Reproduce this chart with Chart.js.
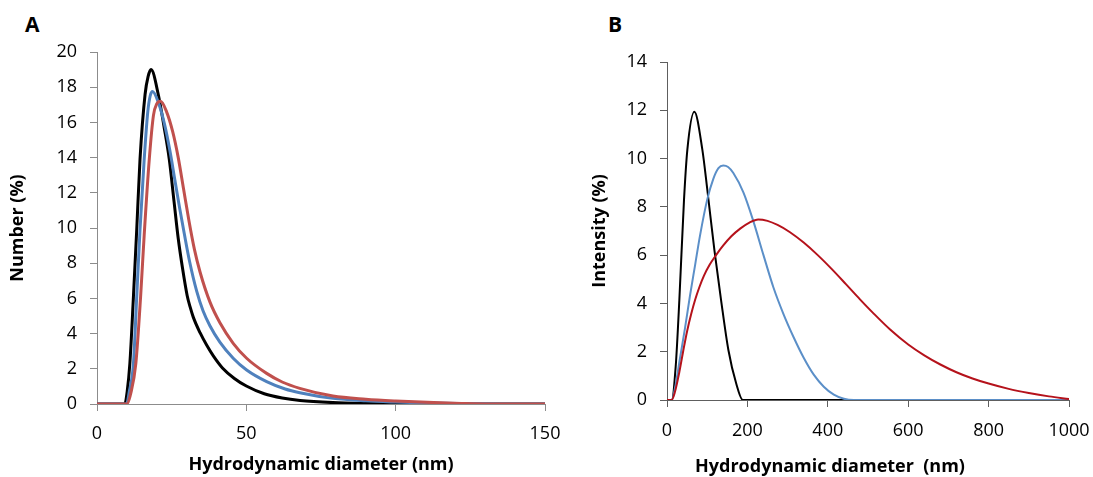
<!DOCTYPE html>
<html>
<head>
<meta charset="utf-8">
<script src="https://cdn.jsdelivr.net/npm/chart.js@4.4.0/dist/chart.umd.min.js"></script>
<style>
  html, body { margin:0; padding:0; background:#fff; }
  body { width:1093px; height:477px; position:relative; overflow:hidden; font-family: "Open Sans", Lato, sans-serif; color:#000; }
  canvas { position:absolute; top:0; }
  #chartA { left:0; }
  #chartB { left:560px; }
  .letter { position:absolute; font-weight:bold; font-size:21px; line-height:1; }
  #titleB { position:absolute; left:660px; width:340px; top:453px; text-align:center; font-weight:bold; font-size:18px; white-space:pre; }
</style>
</head>
<body>
<div class="letter" style="left:25px; top:14px;">A</div>
<div class="letter" style="left:608px; top:14px;">B</div>
<canvas id="chartA" width="560" height="477"></canvas>
<canvas id="chartB" width="533" height="477"></canvas>
<div id="titleB">Hydrodynamic diameter  (nm)</div>
<script>
/* ---------- data ---------- */
// Panel A: number distribution (%), diameter in nm
const aBlackX = [0, 9.3, 10.1, 11.0, 12.2, 13.3, 14.4, 16.1, 17.1, 18.1, 20.5, 22.5, 24.2, 25.8, 27.2, 28.6, 30.2, 31.2, 32.2, 34.5, 36.7, 39, 42, 46, 50, 56, 62, 68, 79, 90, 100, 110, 150];
const aBlackY = [0, 0, 0.7, 2.3, 6.1, 9.9, 13.9, 17.6, 18.6, 19.0, 17.6, 15.7, 13.9, 11.5, 9.4, 7.75, 6.15, 5.5, 4.95, 4.05, 3.35, 2.72, 2.05, 1.45, 1.02, 0.58, 0.34, 0.2, 0.08, 0.03, 0.01, 0, 0];
const aBlueX  = [0, 9.9, 10.8, 12.2, 13.3, 14.4, 15.8, 17.0, 17.8, 18.6, 20.6, 22.6, 24.4, 26.0, 27.6, 29.2, 31.0, 33.4, 35.5, 37.8, 41.2, 45.6, 50.1, 56.8, 63, 67.9, 79, 90, 100, 112, 125, 135, 150];
const aBlueY  = [0, 0, 0.7, 2.3, 6.1, 9.9, 13.9, 16.6, 17.5, 17.75, 17.1, 15.9, 14.4, 12.8, 11.2, 9.7, 8.1, 6.4, 5.3, 4.45, 3.5, 2.6, 1.93, 1.27, 0.85, 0.64, 0.32, 0.18, 0.11, 0.05, 0.01, 0, 0];
const aRedX   = [0, 10.0, 11.3, 13.0, 14.6, 15.8, 17.5, 18.9, 20.0, 21.3, 23.3, 25.3, 27.2, 29.0, 30.8, 32.6, 34.5, 37.8, 41.2, 45.6, 50.1, 56.8, 62, 67.9, 79, 90, 100, 112.7, 122, 132, 150];
const aRedY   = [0, 0, 0.6, 2.3, 6.1, 9.6, 13.9, 16.4, 17.05, 17.2, 16.6, 15.5, 14.0, 12.2, 10.4, 8.8, 7.5, 5.8, 4.6, 3.45, 2.6, 1.74, 1.25, 0.89, 0.45, 0.27, 0.17, 0.08, 0.03, 0, 0];
const aXTicks = [0, 50, 100, 150];
const aYTicks = [0, 2, 4, 6, 8, 10, 12, 14, 16, 18, 20];

// Panel B: intensity distribution (%), diameter in nm
const bBlackX = [0, 11.6, 21.6, 30.7, 42.3, 50.6, 68, 88, 100, 118, 134.5, 152.7, 172, 188.5, 1000];
const bBlackY = [0, 0, 1.38, 4.14, 8.29, 10.36, 11.94, 10.36, 8.75, 6.2, 4.14, 2.07, 0.69, 0, 0];
const bBlueX  = [0, 11.6, 20, 32, 45, 57, 70, 82, 100, 115, 128, 140, 152, 165, 190, 214, 240, 265, 290, 315, 340, 365, 390, 415, 440, 465, 1000];
const bBlueY  = [0, 0, 0.5, 1.7, 3.0, 4.3, 5.6, 6.8, 8.3, 9.15, 9.6, 9.71, 9.65, 9.4, 8.6, 7.45, 6.0, 4.65, 3.55, 2.6, 1.75, 1.05, 0.55, 0.22, 0.05, 0, 0];
const bRedX   = [0, 11.6, 20, 30, 40, 50, 60, 70, 80, 92, 106, 122, 140, 160, 182, 205, 227, 250, 275, 306, 340, 375, 410, 445, 480, 513, 555, 600, 640, 680, 720, 760, 800, 850, 900, 950, 1000];
const bRedY   = [0, 0, 0.35, 1.1, 2.0, 2.85, 3.55, 4.15, 4.65, 5.15, 5.6, 6.0, 6.4, 6.78, 7.1, 7.35, 7.48, 7.42, 7.25, 6.95, 6.52, 6.0, 5.42, 4.8, 4.17, 3.6, 2.92, 2.3, 1.85, 1.47, 1.15, 0.89, 0.68, 0.46, 0.29, 0.15, 0.04];
const bXTicks = [0, 200, 400, 600, 800, 1000];
const bYTicks = [0, 2, 4, 6, 8, 10, 12, 14];

/* ---------- helpers ---------- */
const pts = (xs, ys) => xs.map((x, i) => ({x, y: ys[i]}));
const FONT = '"Open Sans", Lato, sans-serif';

function series(xs, ys, color, width){
  return {
    data: pts(xs, ys),
    borderColor: color,
    borderWidth: width,
    pointRadius: 0,
    fill: false,
    cubicInterpolationMode: 'monotone'
  };
}

function makePanel(id, cfg){
  return new Chart(document.getElementById(id), {
    type: 'line',
    data: { datasets: cfg.datasets },
    options: {
      responsive: false,
      animation: false,
      events: [],
      layout: { padding: cfg.padding },
      plugins: { legend: { display:false }, tooltip: { enabled:false } },
      scales: {
        x: {
          type: 'linear',
          min: cfg.xTicks[0],
          max: cfg.xTicks[cfg.xTicks.length - 1],
          afterBuildTicks: s => { s.ticks = cfg.xTicks.map(v => ({value:v})); },
          // fixed box sizes so the plot area lands where the original's does
          afterFit: s => { s.height = cfg.xAxisH; s.paddingLeft = 0; s.paddingRight = 0; },
          border: { display:true, color: cfg.axisColor, width:1 },
          grid: { drawOnChartArea:false, drawTicks:true, tickLength:7, color: cfg.axisColor },
          ticks: { color:'#000', padding: cfg.xPad, maxRotation:0, callback: v => String(v), font: { family: FONT, size:18 } },
          title: cfg.xTitle
            ? { display:true, text: cfg.xTitle, color:'#000', padding:{ top:0, bottom:1 }, font:{ family: FONT, size:18, weight:'bold' } }
            : { display:false }
        },
        y: {
          type: 'linear',
          min: cfg.yTicks[0],
          max: cfg.yTicks[cfg.yTicks.length - 1],
          afterBuildTicks: s => { s.ticks = cfg.yTicks.map(v => ({value:v})); },
          afterFit: s => { s.width = cfg.yAxisW; s.paddingTop = 0; s.paddingBottom = 0; },
          border: { display:true, color: cfg.axisColor, width:1 },
          grid: { drawOnChartArea:false, drawTicks:true, tickLength:7, color: cfg.axisColor },
          ticks: { color:'#000', padding: 13, callback: v => String(v), font: { family: FONT, size:18 } },
          title: { display:true, text: cfg.yTitle, color:'#000', padding:{ top: cfg.yTitlePad, bottom:0 }, font:{ family: FONT, size:18, weight:'bold' } }
        }
      }
    }
  });
}

// first dataset is drawn on top, so the red/blue lines sit over the black one
makePanel('chartA', {
  datasets: [
    series(aRedX, aRedY, '#C0504D', 3),
    series(aBlueX, aBlueY, '#4F81BD', 3),
    series(aBlackX, aBlackY, '#000000', 3)
  ],
  padding: { top:52, right:15, bottom:0, left:0 },
  xTicks: aXTicks, yTicks: aYTicks,
  xAxisH: 73, yAxisW: 97, xPad: 12,
  axisColor: '#8C8C8C',
  xTitle: 'Hydrodynamic diameter (nm)',
  yTitle: 'Number (%)', yTitlePad: 7
});

makePanel('chartB', {
  datasets: [
    series(bRedX, bRedY, '#B5121B', 2),
    series(bBlueX, bBlueY, '#5B8FC8', 2),
    series(bBlackX, bBlackY, '#000000', 2)
  ],
  padding: { top:62, right:24, bottom:0, left:0 },
  xTicks: bXTicks, yTicks: bYTicks,
  xAxisH: 77, yAxisW: 107, xPad: 13,
  axisColor: '#5E5E5E',
  xTitle: null,
  yTitle: 'Intensity (%)', yTitlePad: 29
});
</script>
</body>
</html>
